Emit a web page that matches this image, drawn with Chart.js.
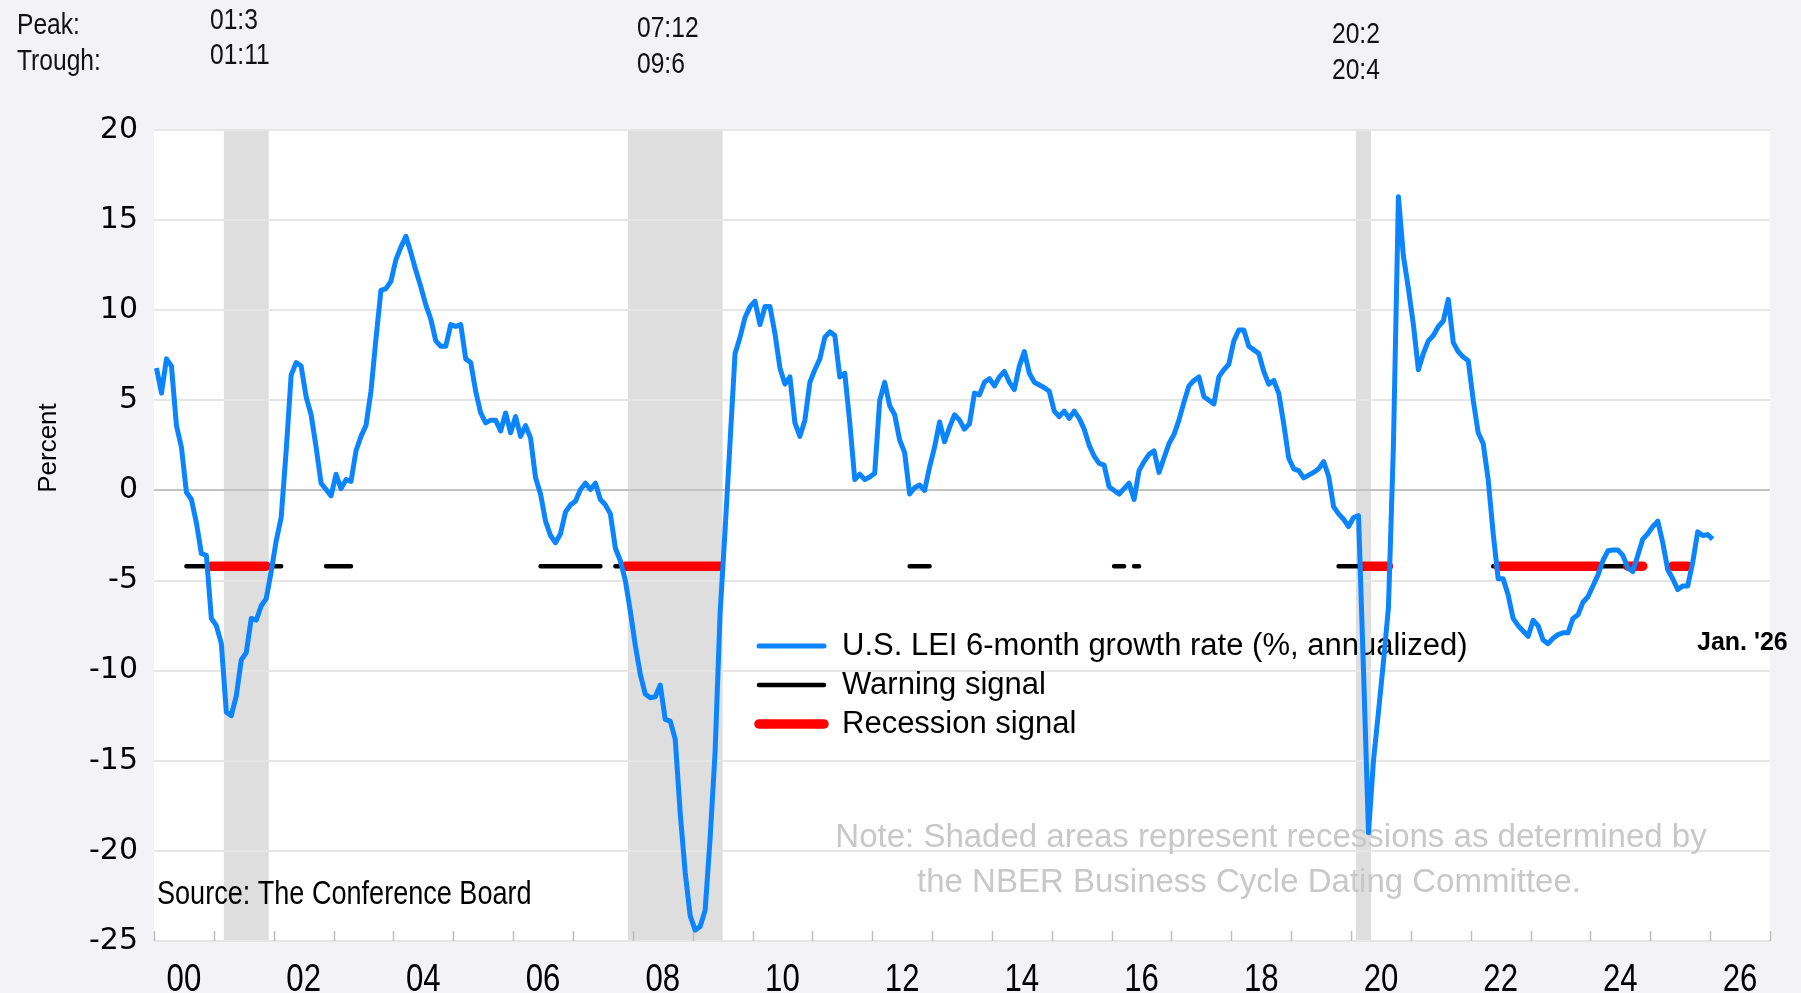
<!DOCTYPE html>
<html>
<head>
<meta charset="utf-8">
<script src="https://cdn.jsdelivr.net/npm/chart.js@4.4.1/dist/chart.umd.min.js"></script>
<style>
html,body{margin:0;padding:0;background:#F3F3F5;}
#wrap{position:relative;width:1801px;height:993px;}
</style>
</head>
<body>
<div id="wrap"><canvas id="c"></canvas></div>
<script>
// ---------------- DATA ----------------
const START_YEAR = 2000; // first observation: Jan 2000, monthly through Jan 2026
// U.S. LEI 6-month growth rate (%, annualized), monthly
const leiGrowth = [
  6.8, 5.4, 7.3, 6.9, 3.6, 2.4, -0.1, -0.5, -1.8, -3.5, -3.6, -7.1,
  -7.5, -8.5, -12.3, -12.5, -11.4, -9.4, -9.0, -7.1, -7.2, -6.4, -6.0, -4.5,
  -2.8, -1.5, 2.2, 6.4, 7.1, 6.9, 5.2, 4.2, 2.4, 0.4, 0.05, -0.3,
  0.9, 0.1, 0.6, 0.5, 2.2, 3.0, 3.6, 5.5, 8.4, 11.1, 11.2, 11.6,
  12.8, 13.5, 14.1, 13.2, 12.2, 11.3, 10.3, 9.5, 8.3, 8.0, 8.0, 9.2,
  9.1, 9.2, 7.3, 7.1, 5.5, 4.3, 3.75, 3.9, 3.9, 3.3, 4.3, 3.2,
  4.1, 3.0, 3.6, 2.9, 0.7, -0.2, -1.7, -2.5, -2.9, -2.4, -1.2, -0.8,
  -0.6, 0.05, 0.4, 0.05, 0.4, -0.5, -0.8, -1.3, -3.2, -3.9, -5.0, -6.7,
  -8.6, -10.2, -11.3, -11.5, -11.45, -10.8, -12.7, -12.8, -13.8, -17.9, -21.2, -23.6,
  -24.4, -24.2, -23.3, -19.3, -14.5, -6.8, -2.2, 2.7, 7.6, 8.5, 9.6, 10.2,
  10.5, 9.2, 10.2, 10.2, 8.7, 6.8, 5.9, 6.3, 3.75, 3.0, 3.9, 6.0,
  6.7, 7.3, 8.5, 8.8, 8.6, 6.3, 6.5, 3.75, 0.6, 0.9, 0.6, 0.75,
  0.95, 5.0, 6.0, 4.7, 4.2, 2.8, 2.1, -0.2, 0.15, 0.3, 0.0, 1.3,
  2.4, 3.8, 2.7, 3.5, 4.2, 3.9, 3.4, 3.7, 5.4, 5.3, 6.0, 6.2,
  5.8, 6.3, 6.6, 6.0, 5.6, 6.9, 7.7, 6.5, 6.0, 5.85, 5.7, 5.5,
  4.4, 4.1, 4.4, 4.0, 4.4, 4.0, 3.4, 2.5, 1.9, 1.5, 1.4, 0.2,
  0.0, -0.2, 0.1, 0.4, -0.5, 1.1, 1.6, 2.0, 2.2, 1.0, 1.8, 2.6,
  3.1, 3.9, 4.9, 5.8, 6.1, 6.3, 5.2, 5.0, 4.8, 6.3, 6.7, 7.0,
  8.3, 8.9, 8.9, 8.0, 7.8, 7.6, 6.6, 5.9, 6.1, 5.4, 3.7, 1.8,
  1.2, 1.1, 0.7, 0.85, 1.0, 1.2, 1.6, 0.8, -0.9, -1.3, -1.6, -2.0,
  -1.5, -1.4, -10.0, -19.0, -15.0, -12.3, -9.5, -6.5, 2.5, 16.3, 13.0, 11.2,
  9.2, 6.7, 7.6, 8.3, 8.6, 9.1, 9.4, 10.6, 8.2, 7.7, 7.4, 7.2,
  5.0, 3.2, 2.6, 0.6, -2.4, -4.9, -4.9, -5.8, -7.1, -7.5, -7.8, -8.1,
  -7.2, -7.5, -8.3, -8.5, -8.2, -8.0, -7.9, -7.9, -7.1, -6.9, -6.2, -5.9,
  -5.3, -4.7, -3.9, -3.35, -3.3, -3.3, -3.6, -4.3, -4.5, -3.6, -2.7, -2.4,
  -2.0, -1.7, -2.9, -4.4, -4.9, -5.5, -5.3, -5.3, -4.0, -2.3, -2.5, -2.45,
  -2.7
];

const SIGNAL_LEVEL = -4.2;
// Warning signal periods (first month, last month)
const warningPeriods = [
  ['2000-07','2000-12'], ['2001-11','2002-02'], ['2002-11','2003-04'],
  ['2006-06','2007-06'], ['2007-09','2007-11'], ['2012-08','2012-12'],
  ['2016-01','2016-03'], ['2016-05','2016-06'], ['2019-10','2020-03'],
  ['2022-05','2022-06'], ['2024-02','2024-08']
];
// Recession signal periods
const recessionSignalPeriods = [
  ['2000-12','2001-11'], ['2007-11','2009-06'], ['2020-03','2020-08'],
  ['2022-06','2024-02'], ['2024-08','2024-11'], ['2025-05','2025-08']
];
// NBER recessions: peak, trough
const recessionPeaks   = ['2001-03', '2007-12', '2020-02'];
const recessionTroughs = ['2001-11', '2009-06', '2020-04'];
const peakLabels   = ['01:3', '07:12', '20:2'];
const troughLabels = ['01:11', '09:6', '20:4'];

const xTickYears  = [2000,2002,2004,2006,2008,2010,2012,2014,2016,2018,2020,2022,2024,2026];
const xTickLabels = ['00','02','04','06','08','10','12','14','16','18','20','22','24','26'];
const yTicks = [20, 15, 10, 5, 0, -5, -10, -15, -20, -25];

// ---------------- HELPERS ----------------
const monthX = k => START_YEAR + (k + 0.5) / 12;
const ymIndex = s => { const [y, m] = s.split('-').map(Number); return (y - START_YEAR) * 12 + (m - 1); };
const ymStart = s => START_YEAR + ymIndex(s) / 12;
const ymEnd   = s => START_YEAR + (ymIndex(s) + 1) / 12;

function signalSeries(periods) {
  const out = leiGrowth.map((_, k) => ({ x: monthX(k), y: null }));
  periods.forEach(([a, b]) => {
    for (let k = ymIndex(a); k <= ymIndex(b); k++) if (out[k]) out[k].y = SIGNAL_LEVEL;
  });
  return out;
}

const SANS = '"Liberation Sans", Arial, sans-serif';
const BLUE = '#0A84FF';
const NARROW_FACTOR = 0.82;

// draw text in a condensed (Arial Narrow-like) style
function narrowText(ctx, text, x, y, size, align) {
  ctx.save();
  ctx.font = size + 'px ' + SANS;
  ctx.textBaseline = 'middle';
  ctx.textAlign = align || 'left';
  ctx.translate(x, y);
  ctx.scale(NARROW_FACTOR, 1);
  ctx.fillText(text, 0, 0);
  ctx.restore();
}

const decor = {
  id: 'decor',
  beforeDraw(chart) {
    const { ctx, chartArea: a, scales: { x } } = chart;
    ctx.save();
    ctx.fillStyle = '#F3F3F5';
    ctx.fillRect(0, 0, chart.width, chart.height);
    ctx.fillStyle = '#FFFFFF';
    ctx.fillRect(a.left, a.top, a.right - a.left, a.bottom - a.top);
    ctx.fillStyle = '#DEDEDE';
    recessionPeaks.forEach((p, i) => {
      const x0 = x.getPixelForValue(ymStart(p));
      const x1 = x.getPixelForValue(ymEnd(recessionTroughs[i]));
      ctx.fillRect(x0, a.top, x1 - x0, a.bottom - a.top);
    });
    ctx.restore();
  },
  beforeDatasetsDraw(chart) {
    const { ctx, chartArea: a, scales: { x } } = chart;
    ctx.save();
    // year tick marks inside the plot
    ctx.strokeStyle = '#BDBDBD';
    ctx.lineWidth = 1.5;
    for (let yr = 2000; yr <= 2027; yr++) {
      const px = Math.round(x.getPixelForValue(yr)) + 0.5;
      ctx.beginPath();
      ctx.moveTo(px, a.bottom);
      ctx.lineTo(px, a.bottom - 10);
      ctx.stroke();
    }
    // note
    ctx.fillStyle = '#C8C8C8';
    ctx.font = '33px ' + SANS;
    ctx.textAlign = 'center';
    ctx.textBaseline = 'middle';
    ctx.fillText('Note: Shaded areas represent recessions as determined by', 1271, 838);
    ctx.fillText('the NBER Business Cycle Dating Committee.', 1249, 883);
    // source
    ctx.fillStyle = '#000';
    narrowText(ctx, 'Source: The Conference Board', 157, 895, 33);
    // legend
    const rows = [
      { label: 'U.S. LEI 6-month growth rate (%, annualized)', color: BLUE, w: 5, y: 646 },
      { label: 'Warning signal', color: '#000000', w: 4.5, y: 685 },
      { label: 'Recession signal', color: '#FF0000', w: 9.5, y: 724 }
    ];
    ctx.font = '31px ' + SANS;
    ctx.textAlign = 'left';
    rows.forEach(r => {
      ctx.strokeStyle = r.color;
      ctx.lineWidth = r.w;
      ctx.lineCap = 'round';
      ctx.beginPath();
      ctx.moveTo(759, r.y);
      ctx.lineTo(824, r.y);
      ctx.stroke();
      ctx.fillStyle = '#000';
      ctx.fillText(r.label, 842, r.y);
    });
    ctx.restore();
  },
  afterDraw(chart) {
    const { ctx, scales: { x } } = chart;
    ctx.save();
    ctx.fillStyle = '#000';
    // x-axis tick labels (condensed), placed by the x scale
    x.ticks.forEach(t => {
      const i = xTickYears.indexOf(Math.floor(t.value));
      if (i >= 0) narrowText(ctx, xTickLabels[i], x.getPixelForValue(t.value), 981, 38, 'center');
    });
    ctx.textBaseline = 'middle';
    ctx.textAlign = 'left';
    ctx.font = 'bold 25px ' + SANS;
    ctx.fillText("Jan. '26", 1697, 643);
    // peak / trough
    ctx.fillStyle = '#111';
    narrowText(ctx, 'Peak:', 17, 26, 30);
    narrowText(ctx, 'Trough:', 17, 62, 30);
    const pos = [[210, 21, 56], [637, 29, 65], [1332, 35, 71]];
    pos.forEach((p, i) => {
      narrowText(ctx, peakLabels[i], p[0], p[1], 30);
      narrowText(ctx, troughLabels[i], p[0], p[2], 30);
    });
    // axis title
    ctx.translate(49, 448);
    ctx.rotate(-Math.PI / 2);
    ctx.textAlign = 'center';
    ctx.textBaseline = 'middle';
    ctx.font = '26px ' + SANS;
    ctx.fillStyle = '#000';
    ctx.fillText('Percent', 0, 0);
    ctx.restore();
  }
};

new Chart(document.getElementById('c'), {
  type: 'line',
  data: {
    datasets: [
      {
        label: 'U.S. LEI 6-month growth rate (%, annualized)',
        data: leiGrowth.map((v, k) => ({ x: monthX(k), y: v })),
        borderColor: BLUE, borderWidth: 5, pointRadius: 0, tension: 0,
        borderJoinStyle: 'round', order: 0
      },
      {
        label: 'Recession signal',
        data: signalSeries(recessionSignalPeriods),
        borderColor: '#FF0000', borderWidth: 9.5, pointRadius: 0, spanGaps: false,
        borderCapStyle: 'round', order: 1
      },
      {
        label: 'Warning signal',
        data: signalSeries(warningPeriods),
        borderColor: '#000000', borderWidth: 4.5, pointRadius: 0, spanGaps: false,
        borderCapStyle: 'round', order: 2
      }
    ]
  },
  options: {
    responsive: true,
    maintainAspectRatio: false,
    animation: false,
    devicePixelRatio: 1,
    layout: { padding: { top: 130, right: 31, bottom: 0, left: 0 } },
    plugins: { legend: { display: false }, tooltip: { enabled: false } },
    scales: {
      x: {
        type: 'linear', min: 2000, max: 2027,
        grid: { display: false, drawTicks: false },
        border: { display: false },
        afterBuildTicks: s => { s.ticks = xTickYears.map(y => ({ value: y + 0.5 })); },
        afterFit: s => { s.height = 52; },
        ticks: { display: false, autoSkip: false, maxRotation: 0 }
      },
      y: {
        min: -25, max: 20,
        afterBuildTicks: s => { s.ticks = yTicks.map(v => ({ value: v })); },
        afterFit: s => { s.width = 154; },
        grid: {
          drawTicks: false,
          color: c => (c.tick && c.tick.value === 0) ? '#C2C2C2' : '#E6E6E6',
          lineWidth: 2
        },
        border: { display: false },
        ticks: { padding: 16, color: '#000', font: { family: '"DejaVu Sans", Verdana, sans-serif', size: 30 } }
      }
    }
  },
  plugins: [decor]
});
</script>
</body>
</html>
